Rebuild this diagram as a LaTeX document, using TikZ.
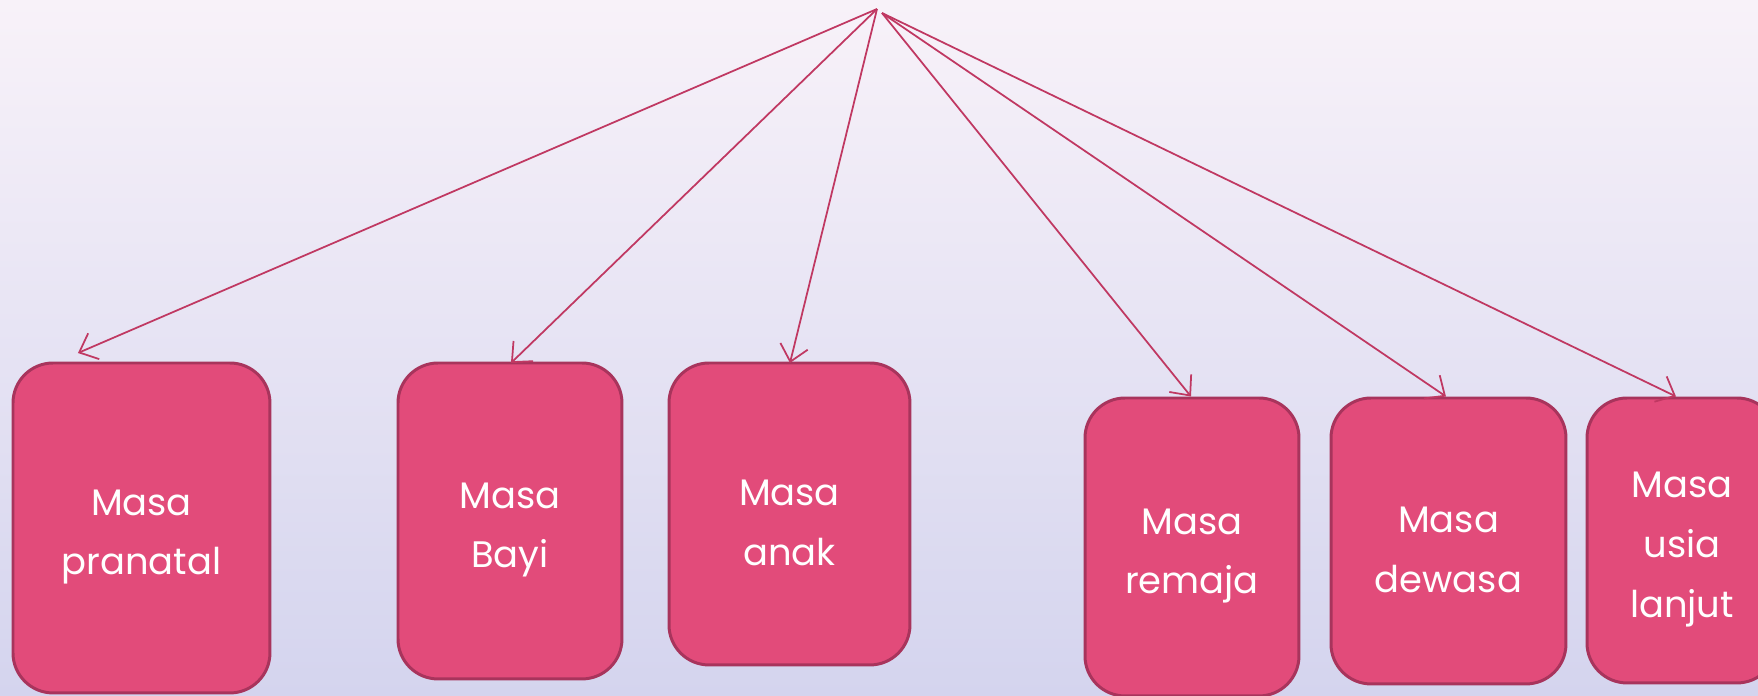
\documentclass[tikz,border=0pt]{standalone}
\usepackage{fontspec}
\setmainfont{Poppins}
\usetikzlibrary{arrows.meta}
\definecolor{boxfill}{RGB}{226,75,122}
\definecolor{boxline}{RGB}{168,52,92}
\definecolor{arrowc}{RGB}{192,56,98}
\definecolor{bgtop}{RGB}{248,242,249}
\definecolor{bgbot}{RGB}{212,212,238}
\tikzset{
  stage/.style={draw=boxline, fill=boxfill, line width=1.7pt, rounded corners=0.8cm,
    anchor=north west, inner sep=0pt, outer sep=0pt},
  stagetext/.style={label={[text=white, align=center, yshift=-0.18cm,
    font=\fontsize{21}{34}\selectfont]center:#1}},
  arr/.style={draw=arrowc, line width=1pt, -{Straight Barb[length=9pt,width=16pt]}}
}
\begin{document}
\begin{tikzpicture}[x=0.02cm,y=-0.02cm]
\useasboundingbox (0,0) rectangle (1758,696);
\clip (0,0) rectangle (1758,696);
\shade[top color=bgtop, bottom color=bgbot] (0,0) rectangle (1758,696);
\node[stage, minimum width=5.14cm, minimum height=6.6cm, stagetext={Masa\\pranatal}] (b1) at (13,363) {};
\node[stage, minimum width=4.48cm, minimum height=6.32cm, stagetext={Masa\\Bayi}] (b2) at (398,363) {};
\node[stage, minimum width=4.82cm, minimum height=6.04cm, stagetext={Masa\\anak}] (b3) at (669,363) {};
\node[stage, minimum width=4.28cm, minimum height=5.96cm, stagetext={Masa\\remaja}] (b4) at (1085,398) {};
\node[stage, minimum width=4.7cm, minimum height=5.72cm, stagetext={Masa\\dewasa}] (b5) at (1331,398) {};
\node[stage, minimum width=3.8cm, minimum height=5.7cm, stagetext={Masa\\usia\\lanjut}] (b6) at (1587,398) {};
\coordinate (topL) at (877,9);
\coordinate (topR) at (882,13);
\draw[arr] (topL) -- ([xshift=1.3cm,yshift=0.2cm]b1.north west);
\draw[arr] (topL) -- ([xshift=2.26cm]b2.north west);
\draw[arr] (topL) -- ([xshift=2.42cm]b3.north west);
\draw[arr] (topR) -- ([xshift=2.12cm,yshift=0.03cm]b4.north west);
\draw[arr] (topR) -- ([xshift=2.3cm,yshift=0.03cm]b5.north west);
\draw[arr] (topR) -- ([xshift=1.78cm,yshift=0.03cm]b6.north west);
\end{tikzpicture}
\end{document}
